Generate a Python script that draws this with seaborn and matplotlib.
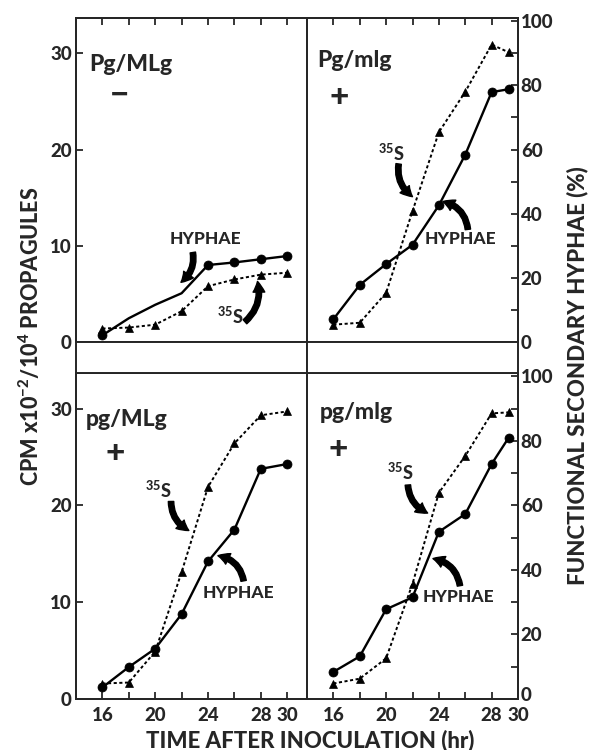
import numpy as np
import pandas as pd
import seaborn as sns
import matplotlib.pyplot as plt
import matplotlib.transforms as mtransforms

# DATA
panel_names = ["Pg/MLg", "Pg/mlg", "pg/MLg", "pg/mlg"]
panel_signs = ["\u2212", "+", "+", "+"]

hours_a = [16, 18, 20, 22, 24, 26, 28, 30]
hours_b = [16, 18, 20, 22, 24, 26, 28, 29.3]

# functional secondary hyphae (%), right axis
hyphae_tl = [2.1, 7.4, 11.6, 15.2, 24.0, 24.8, 25.8, 26.8]
hyphae_tr = [7.1, 17.8, 24.3, 30.3, 42.6, 58.4, 77.9, 78.8]
hyphae_bl = [3.6, 9.9, 15.6, 26.3, 42.6, 52.5, 71.3, 72.8]
hyphae_br = [8.4, 13.2, 27.8, 31.5, 51.8, 57.3, 72.8, 81.0]

# 35S uptake, CPM x10^-2 / 10^4 propagules, left axis
sulfur_tl = [1.4, 1.5, 1.8, 3.2, 5.8, 6.5, 7.0, 7.2]
sulfur_tr = [1.8, 2.0, 5.1, 13.6, 21.8, 26.0, 30.9, 30.1]
sulfur_bl = [1.6, 1.7, 4.9, 13.1, 21.9, 26.4, 29.3, 29.7]
sulfur_br = [1.6, 2.1, 4.2, 11.9, 21.3, 25.1, 29.5, 29.6]

x_ticks = [16, 18, 20, 22, 24, 26, 28, 30]
x_tick_labels = ["16", "", "20", "", "24", "", "28", "30"]
left_ticks = [0, 10, 20, 30]
right_ticks = [0, 20, 40, 60, 80, 100]

sns.set_style("ticks")
plt.rcParams['font.family'] = ['Lato', 'DejaVu Sans']
plt.rcParams['font.weight'] = 'black'
plt.rcParams['mathtext.default'] = 'regular'
plt.rcParams['axes.linewidth'] = 1.4

W, H = 589, 750
fig = plt.figure(figsize=(W / 100, H / 100), dpi=100)


def fbox(x0, y0, x1, y1):
    # pixel box (top-left origin) -> figure fraction rect
    return [x0 / W, 1 - y1 / H, (x1 - x0) / W, (y1 - y0) / H]


boxes = [fbox(76, 18, 307, 342), fbox(307, 18, 518, 342),
         fbox(76, 373, 307, 699), fbox(307, 373, 518, 699)]
xlims = [(14, 31.5), (14, 30), (14, 31.5), (14, 30)]
hours_all = [hours_a, hours_b, hours_a, hours_b]
hyphae_all = [hyphae_tl, hyphae_tr, hyphae_bl, hyphae_br]
sulfur_all = [sulfur_tl, sulfur_tr, sulfur_bl, sulfur_br]

# label / arrow positions (hours, CPM)
name_pos = [(15.0, 28.2), (14.75, 28.6), (14.75, 28.2), (14.95, 28.9)]
sign_pos = [(17.3, 25.6), (16.45, 25.4), (16.95, 25.4), (16.35, 25.8)]
hy_text = [(23.8, 10.7), (25.65, 10.7), (26.3, 10.9), (25.5, 10.5)]
hy_arrow = [((22.85, 9.3), (21.95, 6.2), -0.3), ((26.2, 11.7), (24.3, 14.6), 0.35),
            ((26.7, 12.2), (24.75, 14.8), 0.35), ((25.6, 11.7), (23.55, 14.5), 0.35)]
s_text = [(25.7, 2.7), (20.4, 19.6), (20.2, 21.6), (21.05, 23.4)]
s_arrow = [((26.8, 2.1), (27.75, 6.3), 0.3), ((20.95, 18.5), (22.0, 15.1), 0.3),
           ((21.2, 20.4), (22.55, 17.4), 0.3), ((21.65, 22.1), (23.15, 19.2), 0.3)]

for i in range(4):
    ax = fig.add_axes(boxes[i])
    ax2 = ax.twinx()
    top_row = i < 2
    left_col = i % 2 == 0

    sns.lineplot(x=hours_all[i], y=sulfur_all[i], ax=ax, color='black', marker='^',
                 markersize=5.5, mec='black', mew=0.5, lw=1.4, linestyle=(0, (1.6, 1.3)))
    mk = [0, 4, 5, 6, 7] if i == 0 else None
    sns.lineplot(x=hours_all[i], y=hyphae_all[i], ax=ax2, color='black', marker='o',
                 markersize=6.5, mec='black', mew=0.5, lw=1.7, markevery=mk)

    ax.set_xlim(*xlims[i])
    ax.set_ylim(0, 101 / 3)
    ax2.set_ylim(0, 101)
    ax.set_xlabel("")
    ax.set_ylabel("")
    ax2.set_ylabel("")

    ax.set_xticks(x_ticks)
    if top_row:
        ax.tick_params(axis='x', direction='in', top=True, bottom=False,
                       labelbottom=False, length=5, width=1.3)
    else:
        ax.set_xticklabels(x_tick_labels)
        ax.tick_params(axis='x', direction='in', top=False, bottom=True,
                       labelsize=13.5, pad=6, length=5, width=1.3)

    if left_col:
        ax.set_yticks(left_ticks)
        ax.tick_params(axis='y', direction='in', labelsize=13.5, pad=3, length=5, width=1.3)
        ax2.set_yticks([])
    else:
        ax.set_yticks([])
        ax2.set_yticks(right_ticks)
        ax2.set_yticks([10, 30, 50, 70, 90], minor=True)
        ax2.tick_params(axis='y', which='both', direction='in', labelsize=13.5,
                        pad=2, length=5, width=1.3)
        if not top_row:
            # the bottom "0" sits a little above its tick in the original
            lab0 = ax2.get_yticklabels()[0]
            lab0.set_transform(lab0.get_transform() +
                               mtransforms.ScaledTranslation(0, 5 / 100, fig.dpi_scale_trans))

    ax.text(*name_pos[i], panel_names[i], fontsize=16.5, ha='left', va='baseline')
    ax.text(*sign_pos[i], panel_signs[i], fontsize=24, ha='center', va='center')

    ax.text(*hy_text[i], "HYPHAE", fontsize=12.5, ha='center', va='center')
    ax.text(*s_text[i], "$^{35}$S", fontsize=13, ha='center', va='center')
    for (p0, p1, rad) in (hy_arrow[i], s_arrow[i]):
        ax.annotate("", xy=p1, xytext=p0,
                    arrowprops=dict(arrowstyle='simple,head_length=0.6,head_width=0.65,tail_width=0.3',
                                    connectionstyle=f'arc3,rad={rad}', color='black',
                                    mutation_scale=13, shrinkA=0, shrinkB=0))

# strip between the two rows
for rect in (fbox(76, 342, 307, 373), fbox(307, 342, 518, 373)):
    sax = fig.add_axes(rect)
    sax.set_xticks([])
    sax.set_yticks([])

fig.text(30 / W, 1 - 336 / H, "CPM x10$^{-2}$/10$^{4}$ PROPAGULES", rotation=90,
         fontsize=15.5, ha='center', va='center')
fig.text(577 / W, 1 - 376 / H, "FUNCTIONAL SECONDARY HYPHAE (%)", rotation=90,
         fontsize=16, ha='center', va='center')
fig.text(310 / W, 1 - 740 / H, "TIME AFTER INOCULATION (hr)", fontsize=16,
         ha='center', va='center')

fig.savefig("out.png", dpi=100)
